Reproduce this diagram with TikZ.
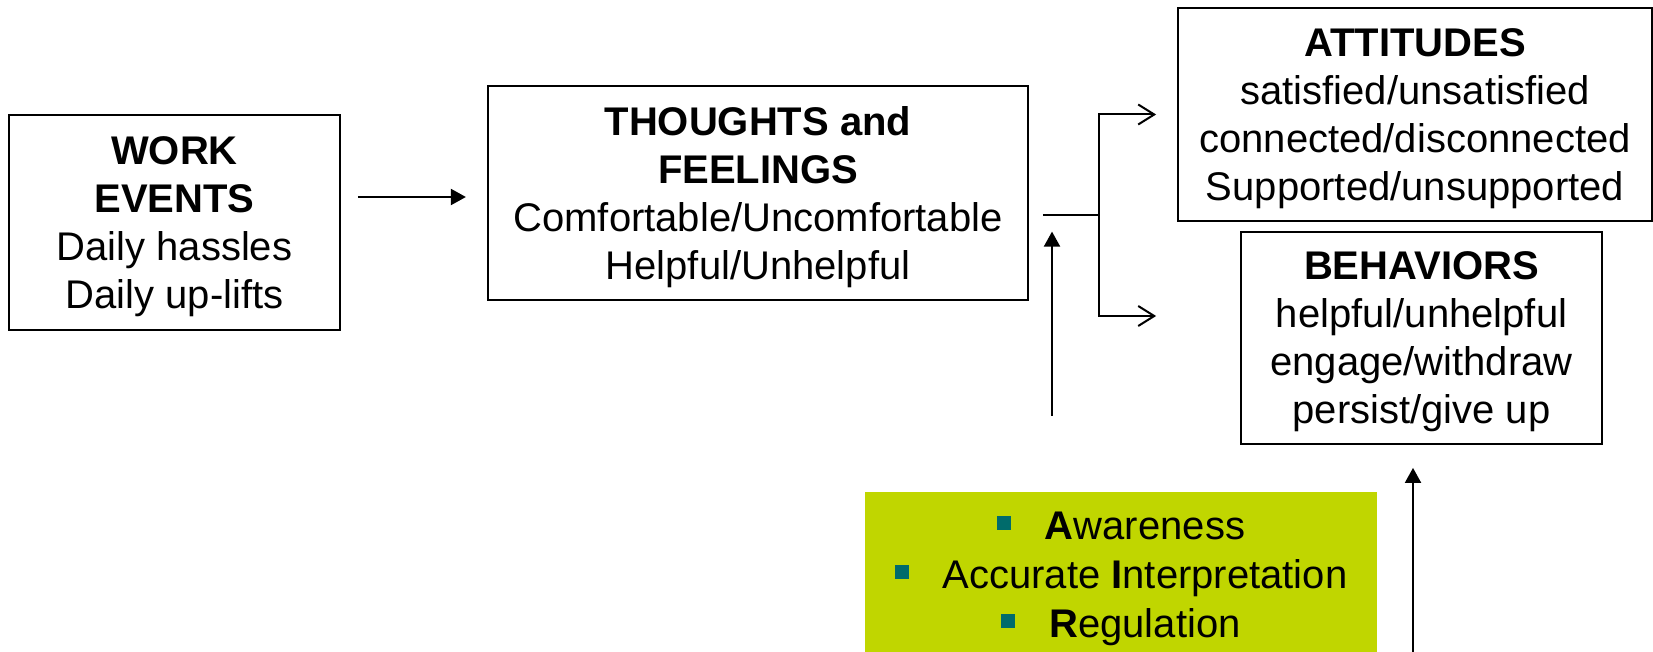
\documentclass[tikz,border=0pt]{standalone}
\usepackage{fontspec}
\setmainfont{Liberation Sans}
\usepackage{tikz}
\usetikzlibrary{arrows.meta,positioning}
\definecolor{AIRGreen}{HTML}{C0D600}
\definecolor{AIRTeal}{HTML}{006B6B}
\tikzset{
    block/.style = {draw, rectangle, line width=0.9pt,
        align=center, inner sep=0pt, text depth=0pt,
        font=\fontsize{20}{24}\selectfont},
    skills/.style = {fill=AIRGreen, rectangle, align=center, inner sep=0pt,
        text depth=0pt, font=\fontsize{20}{24.5}\selectfont},
    arrow/.style = {draw, line width=1pt, -{Triangle[length=7.5pt,width=8pt]}},
    barb/.style = {draw, line width=1pt, -{Straight Barb[length=8pt,width=10pt]}},
    joint/.style = {draw, line width=1pt}
}
\newcommand{\sqbul}{\textcolor{AIRTeal}{\raisebox{5pt}{\rule{7pt}{7pt}}}\hspace{17pt}}

\begin{document}
\begin{tikzpicture}[x=0.5pt,y=-0.5pt]
    \useasboundingbox (0,0) rectangle (1653,652);
    % boxes
    \node [block, minimum width=165.5pt, minimum height=107.5pt] (work) at (174.5,222.5)
        {\textbf{WORK}\\\textbf{EVENTS}\\Daily hassles\\Daily up-lifts};
    \node [block, minimum width=270pt, minimum height=107pt] (thoughts) at (758,193)
        {\textbf{THOUGHTS and}\\\textbf{FEELINGS}\\Comfortable/Uncomfortable\\Helpful/Unhelpful};
    \node [block, minimum width=237pt, minimum height=106.5pt] (attitudes) at (1415,114.5)
        {\textbf{ATTITUDES}\\satisfied/unsatisfied\\connected/disconnected\\Supported/unsupported};
    \node [block, minimum width=180.5pt, minimum height=106pt] (behaviors) at (1421.5,338)
        {\textbf{BEHAVIORS}\\helpful/unhelpful\\engage/withdraw\\persist/give up};
    \node [skills, minimum width=256pt, minimum height=83.2pt] (air) at (1121,575.2)
        {\sqbul\textbf{A}wareness\\\sqbul Accurate \textbf{I}nterpretation\\\sqbul\textbf{R}egulation};
    % helper points
    \coordinate (split) at (1099,215);
    \coordinate (behin) at ([xshift=-42pt,yshift=11pt]behaviors.west);
    \coordinate (below) at (1413,660);
    % connectors
    \draw [arrow] (work.east) ++(17,-25.5) -- ++(108,0);
    \draw [joint] (thoughts.east) ++(14,22) -- (split);
    \draw [barb, shorten >=10.5pt] (split) |- (attitudes.west);
    \draw [barb] (split) |- (behin);
    \draw [arrow] (air.north) ++(-69,-76) -- ++(0,-184);
    \draw [arrow, shorten >=11.5pt] (below) -- (below |- behaviors.south);
\end{tikzpicture}
\end{document}
